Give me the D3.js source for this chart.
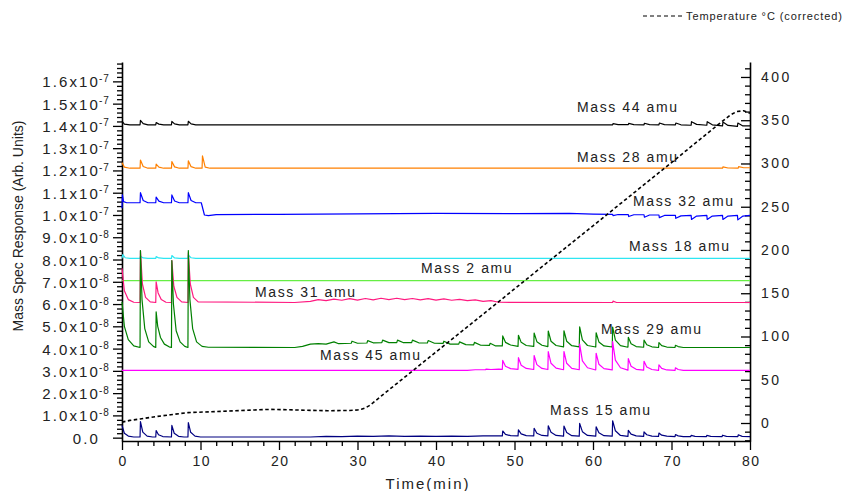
<!DOCTYPE html>
<html>
<head>
<meta charset="utf-8">
<title>Mass spec response</title>
<script src="https://cdn.jsdelivr.net/npm/d3@7"></script>
<style>
  body { margin: 0; background: #fff; }
  text { font-family: Arial, "Liberation Sans", sans-serif; fill: #222; }
</style>
</head>
<body>
<script>
// ---- data: time (min), response (x10^-8 arb. units) ----
let mass44 = [[0,14.22],[0.3,14.08],[1,14.05],
  [2.3,14.05],[2.35,14.25],[2.7,14.1],[3.3,14.05],
  [4.3,14.05],[4.35,14.15],[4.7,14.08],[5.3,14.05],
  [6.3,14.05],[6.35,14.2],[6.7,14.09],[7.3,14.05],
  [8.4,14.05],[8.45,14.21],[8.8,14.09],[9.4,14.05],
  [60,14.05],[62.5,14.05],[62.55,14.1],[63.2,14.06],[64.5,14.06],[64.55,14.11],[65.2,14.06],
  [66.5,14.05],[66.55,14.12],[67.2,14.06],[68.4,14.05],[68.45,14.13],[69.1,14.06],
  [70.5,14.05],[70.55,14.13],[71.2,14.05],[72.5,14.03],[72.55,14.19],[73.2,14.07],
  [74.5,14.03],[74.55,14.19],[75.2,14.05],[76.5,14.0],[76.55,14.17],[77.2,14.02],
  [78.4,13.98],[78.45,14.13],[79.1,14.0],[80,14.0]];

let mass28 = [[0,12.35],[0.3,12.15],[1,12.1],
  [2.3,12.1],[2.35,12.47],[2.7,12.18],[3.3,12.1],
  [4.3,12.1],[4.35,12.28],[4.7,12.15],[5.3,12.1],
  [6.3,12.1],[6.35,12.4],[6.7,12.16],[7.3,12.1],
  [8.4,12.1],[8.45,12.43],[8.8,12.17],[9.4,12.1],
  [10.2,12.1],[10.25,12.65],[10.6,12.15],[11.2,12.1],
  [40,12.1],[76.5,12.1],[76.55,12.16],[77.2,12.11],[78.5,12.1],[78.55,12.17],[79.2,12.12],[80,12.12]];

let mass32 = [[0,10.3],[0.05,10.9],[0.2,10.6],[0.6,10.55],
  [2.3,10.55],[2.35,11.0],[2.7,10.65],[3.3,10.55],
  [4.3,10.55],[4.35,10.8],[4.7,10.62],[5.3,10.55],
  [6.3,10.55],[6.35,10.9],[6.7,10.63],[7.3,10.55],
  [8.4,10.55],[8.45,11.0],[8.8,10.65],[9.4,10.55],
  [10.1,10.55],[10.5,10.0],[11,9.97],[12,10.02],[20,10.03],[30,10.05],[40,10.07],[50,10.06],[57,10.07],[60,10.04],
  [62.5,10.03],[62.55,9.97],[63.2,10.02],[64.5,10.02],[64.55,9.93],[65.2,10.01],
  [66.5,10.01],[66.55,9.9],[67.2,10.0],[68.4,10.0],[68.45,9.88],[69.1,9.98],
  [70.5,9.98],[70.55,9.85],[71.2,9.96],[72.5,9.98],[72.55,9.8],[73.2,9.95],
  [74.5,9.98],[74.55,9.8],[75.2,9.95],[76.5,9.98],[76.55,9.8],[77.2,9.95],
  [78.4,9.98],[78.45,9.78],[79.1,9.95],[80,9.98]];

let mass18 = [[0,8.05],[0.1,8.22],[0.4,8.08],[1,8.05],
  [2.3,8.05],[2.35,8.15],[2.7,8.07],[3.3,8.05],
  [4.3,8.05],[4.35,8.13],[4.7,8.07],[5.3,8.05],
  [6.3,8.05],[6.35,8.18],[6.7,8.07],[7.3,8.05],
  [8.4,8.05],[8.45,8.2],[8.8,8.08],[9.4,8.05],[80,8.05]];

let mass2 = [[0,7.05],[80,7.05]];

let mass31 = [[0,7.6],[0.3,6.6],[0.8,6.2],[1.5,6.08],
  [2.3,6.07],[2.35,8.4],[2.6,6.9],[3.0,6.3],[3.6,6.1],
  [4.3,6.07],[4.35,7.0],[4.6,6.5],[5.0,6.2],[5.6,6.08],
  [6.3,6.07],[6.35,7.95],[6.6,6.8],[7.0,6.3],[7.6,6.1],
  [8.4,6.07],[8.45,8.3],[8.7,6.9],[9.1,6.3],[9.7,6.1],
  [22,6.07],[24,6.12],[25,6.2],[26,6.15],[27,6.22],[28,6.17],[29,6.24],[30,6.18],[31,6.25],[32,6.19],
  [33,6.26],[34,6.2],[35,6.26],[36,6.2],[37,6.25],[38,6.19],[39,6.24],[40,6.18],[41,6.23],[42,6.17],
  [43,6.21],[44,6.15],[45,6.19],[46,6.12],[47,6.15],[48,6.08],
  [62.5,6.07],[62.55,6.13],[63,6.07],[80,6.07]];

let mass29 = [[0,6.1],[0.3,5.0],[0.8,4.4],[1.5,4.12],
  [2.3,4.05],[2.35,8.4],[2.55,6.2],[2.9,4.9],[3.4,4.3],[4.0,4.1],
  [4.3,4.05],[4.35,5.65],[4.55,5.0],[4.9,4.5],[5.4,4.2],[6.0,4.08],
  [6.3,4.05],[6.35,7.95],[6.55,6.0],[6.9,4.8],[7.4,4.3],[8.0,4.1],
  [8.4,4.05],[8.45,8.4],[8.65,6.2],[9.0,4.9],[9.5,4.3],[10.2,4.1],[11,4.06],
  [22,4.05],[23,4.1],[24,4.2],[25,4.22],[26,4.2],[27,4.3],[27.6,4.22],
  [29.2,4.24],[29.3,4.33],[30,4.24],[31.2,4.25],[31.3,4.36],[32,4.26],
  [33.1,4.27],[33.2,4.38],[34,4.27],[35,4.27],[35.1,4.38],[35.8,4.27],
  [36.9,4.27],[37,4.38],[37.8,4.26],[38.9,4.25],[39,4.36],[39.8,4.24],
  [40.9,4.23],[41,4.33],[41.8,4.2],[42.9,4.2],[43,4.3],[43.8,4.18],
  [44.8,4.17],[44.9,4.28],[45.7,4.15],[46.8,4.14],[46.9,4.24],[47.6,4.12],
  [48.45,4.12],[48.5,4.57],[48.85,4.28],[49.5,4.16],
  [50.45,4.1],[50.5,4.6],[50.85,4.28],[51.5,4.14],
  [52.45,4.1],[52.5,4.7],[52.85,4.31],[53.5,4.15],
  [54.25,4.09],[54.3,4.79],[54.65,4.33],[55.3,4.14],
  [56.25,4.08],[56.3,4.8],[56.65,4.33],[57.3,4.13],
  [58.25,4.08],[58.3,4.98],[58.65,4.39],[59.3,4.14],
  [60.35,4.07],[60.4,4.71],[60.75,4.3],[61.4,4.12],
  [62.45,4.07],[62.5,4.97],[62.85,4.38],[63.5,4.13],
  [64.45,4.06],[64.5,4.51],[64.85,4.22],[65.5,4.09],
  [66.45,4.06],[66.5,4.38],[66.85,4.17],[67.5,4.08],
  [68.35,4.05],[68.4,4.27],[68.75,4.13],[69.4,4.07],
  [70.45,4.05],[70.5,4.15],[70.85,4.09],[71.5,4.05],[80,4.05]];

let mass45 = [[0,3.02],[44,3.02],[45,3.05],[46.3,3.05],[46.4,3.08],[47,3.06],[48,3.08],
  [48.45,3.07],[48.5,3.47],[48.85,3.21],[49.5,3.1],
  [50.45,3.07],[50.5,3.59],[50.85,3.25],[51.5,3.11],
  [52.45,3.06],[52.5,3.69],[52.85,3.28],[53.5,3.11],
  [54.25,3.06],[54.3,3.86],[54.65,3.34],[55.3,3.12],
  [56.25,3.05],[56.3,3.87],[56.65,3.34],[57.3,3.11],
  [58.25,3.05],[58.3,4.2],[58.65,3.45],[59.3,3.14],
  [60.35,3.04],[60.4,3.79],[60.75,3.3],[61.4,3.1],
  [62.45,3.04],[62.5,4.31],[62.85,3.48],[63.5,3.14],
  [64.45,3.03],[64.5,3.55],[64.85,3.21],[65.5,3.07],
  [66.45,3.03],[66.5,3.43],[66.85,3.17],[67.5,3.06],
  [68.35,3.02],[68.4,3.27],[68.75,3.11],[69.4,3.04],
  [70.45,3.02],[70.5,3.14],[70.85,3.06],[71.5,3.02],[80,3.02]];

let mass15 = [[0,0.55],[0.3,0.2],[0.8,0.07],[1.5,0.03],
  [2.3,0.03],[2.35,0.72],[2.65,0.25],[3.2,0.07],[3.9,0.03],
  [4.3,0.03],[4.35,0.32],[4.65,0.13],[5.2,0.05],
  [6.3,0.03],[6.35,0.55],[6.65,0.2],[7.2,0.06],[7.9,0.03],
  [8.4,0.03],[8.45,0.68],[8.75,0.24],[9.3,0.07],[10,0.03],
  [24,0.03],[26,0.06],[28,0.05],[30,0.07],[32,0.06],[34,0.08],[36,0.06],[38,0.07],
  [40,0.06],[42,0.07],[44,0.06],[46,0.08],[48,0.08],
  [48.45,0.08],[48.5,0.3],[48.85,0.15],[49.5,0.09],
  [50.45,0.08],[50.5,0.35],[50.85,0.17],[51.5,0.09],
  [52.45,0.08],[52.5,0.42],[52.85,0.2],[53.5,0.1],
  [54.25,0.08],[54.3,0.53],[54.65,0.24],[55.3,0.1],
  [56.25,0.07],[56.3,0.52],[56.65,0.23],[57.3,0.09],
  [58.25,0.07],[58.3,0.64],[58.65,0.27],[59.3,0.1],
  [60.35,0.07],[60.4,0.49],[60.75,0.22],[61.4,0.09],
  [62.45,0.07],[62.5,0.76],[62.85,0.31],[63.5,0.1],
  [64.45,0.06],[64.5,0.33],[64.85,0.16],[65.5,0.08],
  [66.45,0.06],[66.5,0.26],[66.85,0.13],[67.5,0.07],
  [68.35,0.06],[68.4,0.21],[68.75,0.11],[69.4,0.07],
  [70.45,0.05],[70.5,0.14],[70.85,0.08],[71.5,0.05],
  [72.45,0.05],[72.5,0.1],[73,0.06],[74.45,0.05],[74.5,0.1],[75,0.06],
  [76.45,0.05],[76.5,0.11],[77,0.06],[78.45,0.05],[78.5,0.13],[79,0.06],[80,0.05]];

// temperature, °C (right axis)
let temperature = [[0,1],[1,3],[2.3,4.6],[4,7],[6.2,9.6],[8.4,12],[11.3,13],[15.6,14.6],[19,15.8],
  [22.3,15],[26.2,14.2],[29,14.5],[30,15],[30.5,16],[31,17.5],[31.5,20],[32,23.5],[33,31],
  [40,82],[50,155],[60,228],[70,301],[75,338],[76.5,349],[77.5,356],[78.3,360],[79.2,361],[80,358]];

let seriesNames = ['Mass 44 amu','Mass 28 amu','Mass 32 amu','Mass 18 amu','Mass 2 amu',
  'Mass 31 amu','Mass 29 amu','Mass 45 amu','Mass 15 amu'];
let seriesData = [mass44, mass28, mass32, mass18, mass2, mass31, mass29, mass45, mass15];

let xTicks = [0,10,20,30,40,50,60,70,80];
let leftTicks = [0,1,2,3,4,5,6,7,8,9,10,11,12,13,14,15,16];
let rightTicks = [0,50,100,150,200,250,300,350,400];

// ---- styles / layout ----
let colors = ['#000000','#ff8000','#0000ff','#2ee6f2','#66ee44','#ff1a80','#008000','#ff00ff','#000080'];
// label anchor (start x, baseline y) in px
let labelPos = [[577,112],[577,162],[633,206],[629,251],[421,273],[255,297],[601,334],[320,360],[550,415]];

let width = 858, height = 491;
let svg = d3.select('body').append('svg').attr('width', width).attr('height', height);

let x = d3.scaleLinear().domain([0, 80]).range([122, 750]);
let y = d3.scaleLinear().domain([-0.15, 16.87]).range([441, 62]);
let yT = d3.scaleLinear().domain([-20.8, 417.3]).range([441, 62]);

// x axis
let xMinor = d3.range(0, 81, 2).filter(d => d % 10 !== 0);
svg.append('g').attr('transform', 'translate(0,441)')
  .call(d3.axisBottom(x).tickValues(xMinor).tickSize(5).tickFormat(''))
  .call(g => g.select('.domain').remove());
let gx = svg.append('g').attr('transform', 'translate(0,441)')
  .call(d3.axisBottom(x).tickValues(xTicks).tickSize(9).tickSizeOuter(0).tickPadding(6));
gx.selectAll('text').style('font-size', '14px').style('letter-spacing', '1.5px').attr('dx', '0.75px');

// left axis
let leftMinor = d3.range(-0.0, 16.81, 0.2).map(d => +d.toFixed(1)).filter(d => Math.abs(d - Math.round(d)) > 0.01);
svg.append('g').attr('transform', 'translate(122,0)')
  .call(d3.axisLeft(y).tickValues(leftMinor).tickSize(5).tickFormat(''))
  .call(g => g.select('.domain').remove());
let gl = svg.append('g').attr('transform', 'translate(122,0)')
  .call(d3.axisLeft(y).tickValues(leftTicks).tickSize(9).tickSizeOuter(0));
gl.selectAll('.tick').each(function(d) {
  let tick = d3.select(this);
  tick.select('text').remove();
  let base, sup;
  if (d === 0) { base = '0.0'; sup = null; }
  else if (d < 10) { base = d.toFixed(1) + 'x10'; sup = '-8'; }
  else { base = (d / 10).toFixed(1) + 'x10'; sup = '-7'; }
  tick.append('text').attr('x', -22).attr('y', 5.5).attr('text-anchor', 'end')
    .style('font-size', '15px').style('letter-spacing', '2.1px').text(base);
  if (sup) {
    tick.append('text').attr('x', -23).attr('y', 0).attr('text-anchor', 'start')
      .style('font-size', '10px').style('letter-spacing', '1px').text(sup);
  }
});

// right axis (ticks point inward)
let rightMinor = d3.range(-20, 411, 10).filter(d => d % 50 !== 0);
svg.append('g').attr('transform', 'translate(750,0)')
  .call(d3.axisRight(yT).tickValues(rightMinor).tickSize(-5).tickFormat(''))
  .call(g => g.select('.domain').remove());
let gr = svg.append('g').attr('transform', 'translate(750,0)')
  .call(d3.axisRight(yT).tickValues(rightTicks).tickSize(-9).tickSizeOuter(0).tickPadding(11));
gr.selectAll('text').style('font-size', '14px').style('letter-spacing', '2.5px');

svg.selectAll('.domain').attr('stroke-width', 1.6);
svg.selectAll('.tick line').attr('stroke-width', 1.3);
svg.selectAll('.tick text').attr('fill', '#222');

// series lines
let line = d3.line().x(d => x(d[0])).y(d => y(d[1]));
seriesData.forEach((s, i) => {
  svg.append('path').datum(s)
    .attr('d', line)
    .attr('fill', 'none')
    .attr('stroke', colors[i])
    .attr('stroke-width', 1.2)
    .attr('stroke-linejoin', 'round');
});

// series labels
seriesNames.forEach((name, i) => {
  svg.append('text').attr('x', labelPos[i][0]).attr('y', labelPos[i][1])
    .style('font-size', '14px').style('letter-spacing', '1.6px').text(name);
});

// temperature (right axis)
let tLine = d3.line().x(d => x(d[0])).y(d => yT(d[1]));
svg.append('path').datum(temperature)
  .attr('d', tLine)
  .attr('fill', 'none')
  .attr('stroke', '#000')
  .attr('stroke-width', 1.6)
  .attr('stroke-dasharray', '3.5,2.5');

// legend
svg.append('line').attr('x1', 643).attr('x2', 683).attr('y1', 16).attr('y2', 16)
  .attr('stroke', '#000').attr('stroke-width', 1).attr('stroke-dasharray', '4,3');
svg.append('text').attr('x', 686).attr('y', 20)
  .style('font-size', '11px').style('letter-spacing', '0.9px').text('Temperature °C (corrected)');

// axis titles
svg.append('text').attr('transform', 'translate(23,226) rotate(-90)')
  .attr('text-anchor', 'middle').style('font-size', '14px')
  .text('Mass Spec Response (Arb. Units)');
svg.append('text').attr('x', 428).attr('y', 489).attr('text-anchor', 'middle')
  .style('font-size', '15px').style('letter-spacing', '2px').text('Time(min)');
</script>
</body>
</html>
